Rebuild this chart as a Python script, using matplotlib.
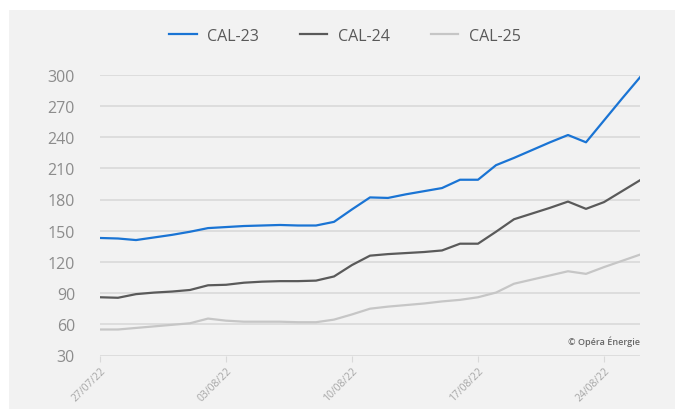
import matplotlib
matplotlib.use("Agg")
import matplotlib.pyplot as plt
from matplotlib.patches import Rectangle

plt.rcParams['font.family'] = ['Open Sans', 'DejaVu Sans']

# jours du 27/07/22 au 26/08/22 (un point par jour)
dates = ['27/07/22', '28/07/22', '29/07/22', '30/07/22', '31/07/22', '01/08/22',
         '02/08/22', '03/08/22', '04/08/22', '05/08/22', '06/08/22', '07/08/22',
         '08/08/22', '09/08/22', '10/08/22', '11/08/22', '12/08/22', '13/08/22',
         '14/08/22', '15/08/22', '16/08/22', '17/08/22', '18/08/22', '19/08/22',
         '20/08/22', '21/08/22', '22/08/22', '23/08/22', '24/08/22', '25/08/22',
         '26/08/22']
tick_labels = ['27/07/22', '03/08/22', '10/08/22', '17/08/22', '24/08/22']

cal23 = [143, 142.5, 141, 143.5, 146, 149, 152.5, 153.5, 154.5, 155, 155.5,
         155, 155, 158.5, 170.5, 182, 181.5, 185, 188, 191, 199, 199, 213,
         220, 227.5, 235, 242, 235, 256, 277, 297.5]
cal24 = [86, 85.5, 89, 90.5, 91.5, 93, 97.5, 98, 100, 101, 101.5, 101.5, 102,
         106, 117, 126, 127.5, 128.5, 129.5, 131, 137.5, 137.5, 149, 161,
         166.5, 172, 178, 171, 177.5, 188, 198.5]
cal25 = [55, 55, 56.5, 58, 59.5, 61, 65.5, 63.5, 62.5, 62.5, 62.5, 62, 62,
         64.5, 69.5, 75, 77, 78.5, 80, 82, 83.5, 86, 90.5, 99, 103, 107, 111,
         108.5, 115, 121, 127]

series = [('CAL-23', cal23, '#1a74d4'),
          ('CAL-24', cal24, '#5a5a5a'),
          ('CAL-25', cal25, '#c6c6c6')]

fig = plt.figure(figsize=(6.75, 4.10), dpi=100)
fig.patch.set_facecolor('white')
# fond gris du cadre
fig.patches.append(Rectangle((9 / 675, -0.1), 2, 1.1 - 11 / 410, transform=fig.transFigure,
                             facecolor='#f2f2f2', edgecolor='none', zorder=-5))

ax = fig.add_axes([100 / 675, 1 - 356.5 / 410, 540 / 675, (356.5 - 75.7) / 410])
ax.set_facecolor('none')
ax.set_zorder(2)

x = list(range(len(dates)))
for name, vals, col in series:
    ax.plot(x, vals, color=col, lw=1.6, label=name, solid_joinstyle='round')

ax.set_xlim(0, len(dates) - 1)
ax.set_ylim(30, 300)
ax.set_yticks(range(30, 301, 30))
ax.yaxis.grid(True, color='#d9d9d9', lw=1.2)
ax.set_axisbelow(True)
for s in ax.spines.values():
    s.set_visible(False)

ticks = [dates.index(t) for t in tick_labels]
ax.set_xticks(ticks)
ax.set_xticklabels(tick_labels, rotation=45, ha='right', va='top',
                   rotation_mode='anchor', fontsize=7.5, color='#a6a6a6')
ax.tick_params(axis='x', length=4, color='#d9d9d9', pad=3)
ax.tick_params(axis='y', length=0, pad=18, labelsize=11.5, labelcolor='#8c8c8c')

ax.text(1.0, 0.035, '© Opéra Énergie', transform=ax.transAxes, ha='right',
        va='bottom', fontsize=6.5, color='#666666', fontweight='semibold')

fig.legend(loc='center', bbox_to_anchor=(345 / 675, 1 - 37 / 410), ncol=3,
           frameon=False, fontsize=11.5, handlelength=1.7, handletextpad=0.65,
           columnspacing=2.6, labelcolor='#595959')

fig.savefig('out.png', dpi=100)
